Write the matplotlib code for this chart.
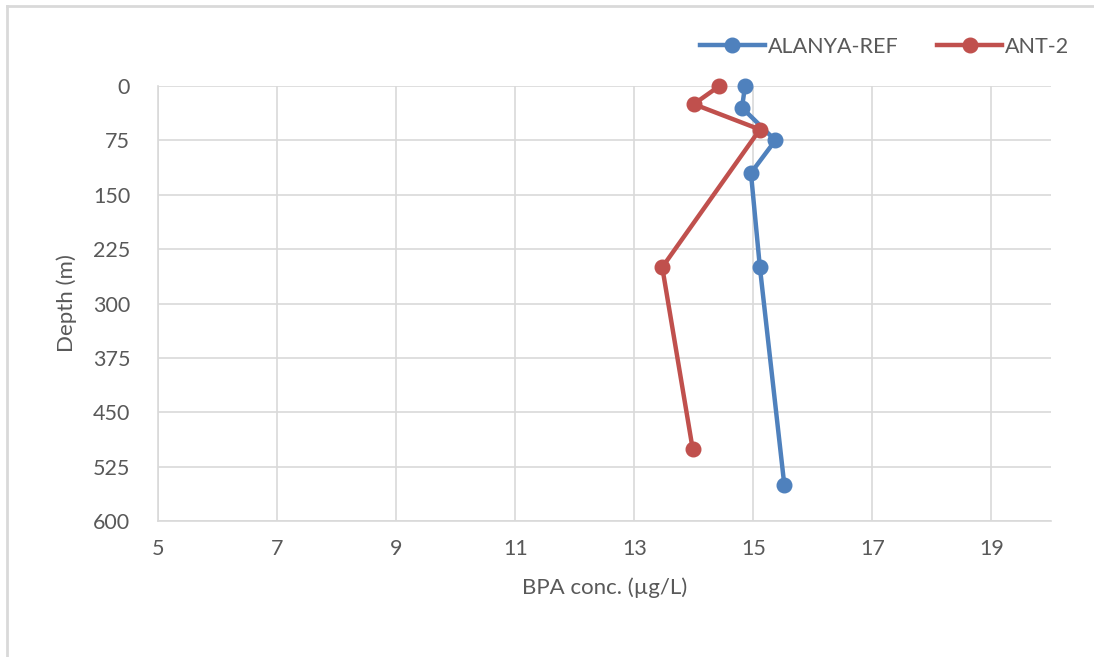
import matplotlib.pyplot as plt
from matplotlib.lines import Line2D

# data
alanya_conc = [14.86, 14.81, 15.37, 14.96, 15.11, 15.52]
alanya_depth = [0, 30, 75, 120, 250, 550]
ant2_conc = [14.43, 14.00, 15.11, 13.47, 13.98]
ant2_depth = [0, 25, 60, 250, 500]
x_ticks = [5, 7, 9, 11, 13, 15, 17, 19]
y_ticks = [0, 75, 150, 225, 300, 375, 450, 525, 600]

plt.rcParams['font.family'] = ['Lato', 'DejaVu Sans']
txt = '#595959'
grid = '#d9d9d9'

fig = plt.figure(figsize=(10.94, 6.57), dpi=100)
ax = fig.add_axes([158/1094, 1-521/657, (1051-158)/1094, (521-86)/657])

ax.plot(alanya_conc, alanya_depth, color='#4f81bd', lw=3.2, marker='o', ms=10.5,
        label='ALANYA-REF', zorder=3, clip_on=False)
ax.plot(ant2_conc, ant2_depth, color='#c0504d', lw=3.2, marker='o', ms=10.5,
        label='ANT-2', zorder=3, clip_on=False)

ax.set_xlim(5, 20)
ax.set_ylim(600, 0)
ax.set_xticks(x_ticks)
ax.set_yticks(y_ticks)
ax.grid(True, color=grid, lw=1.2)
ax.set_axisbelow(True)
for s in ['top', 'right']:
    ax.spines[s].set_visible(False)
for s in ['left', 'bottom']:
    ax.spines[s].set_color(grid)
    ax.spines[s].set_linewidth(1.2)
ax.tick_params(length=0, labelsize=15.5, colors=txt, pad=13)
ax.tick_params(axis='y', pad=20)

ax.set_xlabel('BPA conc. (µg/L)', fontsize=16, color=txt, labelpad=13)
ax.set_ylabel('Depth (m)', fontsize=16, color=txt, labelpad=11)

leg = ax.legend(loc='center right', bbox_to_anchor=(1.03, 1 + 39/435), ncol=2, frameon=False,
                fontsize=15.5, handlelength=3.0, columnspacing=1.8, handletextpad=0.15,
                borderaxespad=0)
for t in leg.get_texts():
    t.set_color(txt)

# chart area border
fig.add_artist(Line2D([7/1094, 7/1094], [0, 1-6/657], transform=fig.transFigure,
                      color='#d9d9d9', lw=2))
fig.add_artist(Line2D([7/1094, 1], [1-6/657, 1-6/657], transform=fig.transFigure,
                      color='#d9d9d9', lw=2))

fig.savefig('out.png', dpi=100)
